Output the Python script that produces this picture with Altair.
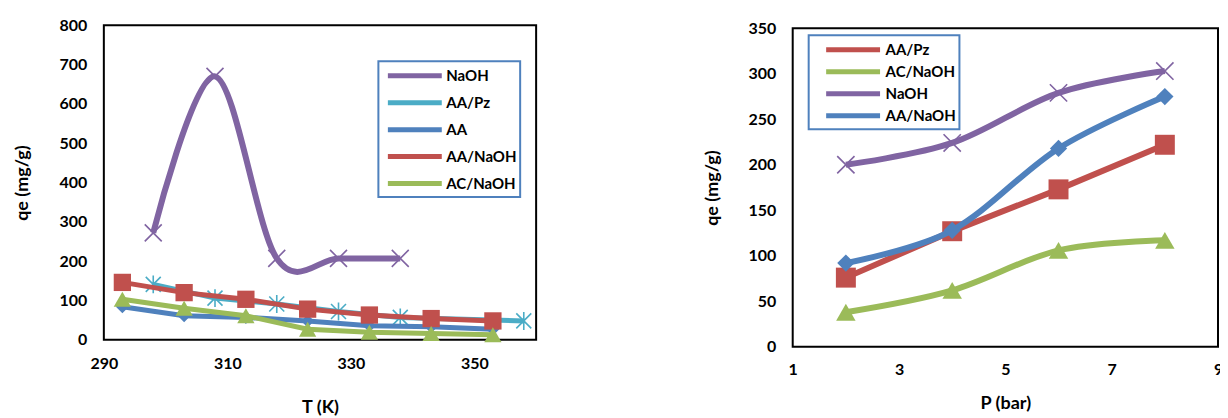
import altair as alt
import pandas as pd

# ---------------- Left panel: qe vs T ----------------
T_NAOH = [298, 308, 318, 328, 338]
QE_NAOH_T = [272, 670, 207, 207, 207]
T_AAPZ = [298, 308, 318, 328, 338, 358]
QE_AAPZ_T = [141, 106, 91, 72, 57, 48]
T_STD = [293, 303, 313, 323, 333, 343, 353]
QE_AA_T = [84, 61, 57, 48, 36, 33, 27]
QE_AANAOH_T = [146, 120, 103, 78, 63, 54, 48]
QE_ACNAOH_T = [103, 80, 61, 27, 19, 16, 13]

SERIES_T = ["NaOH", "AA/Pz", "AA", "AA/NaOH", "AC/NaOH"]
X_TICKS_T = [290, 310, 330, 350]
Y_TICKS_T = [0, 100, 200, 300, 400, 500, 600, 700, 800]

# ---------------- Right panel: qe vs P ----------------
P_VALS = [2, 4, 6, 8]
QE_AAPZ_P = [76, 127, 173, 222]
QE_ACNAOH_P = [38, 62, 106, 117]
QE_NAOH_P = [200, 224, 279, 303]
QE_AANAOH_P = [92, 128, 218, 275]

SERIES_P = ["AA/Pz", "AC/NaOH", "NaOH", "AA/NaOH"]
X_TICKS_P = [1, 3, 5, 7, 9]
Y_TICKS_P = [0, 50, 100, 150, 200, 250, 300, 350]

PURPLE = "#8064A2"
CYAN = "#4BACC6"
BLUE = "#4F81BD"
RED = "#C0504D"
GREEN = "#9BBB59"

X_PATH = "M-1,-1L1,1M1,-1L-1,1"
AST_PATH = "M-1,-1L1,1M1,-1L-1,1M0,-1.2L0,1.2"
LEG_PATH = "M-3,0L3,0"
FONT = "Lato"


def frame(xs_list, ys_list, names):
    rows = []
    for xs, ys, n in zip(xs_list, ys_list, names):
        for x, y in zip(xs, ys):
            rows.append({"series": n, "x": x, "y": y})
    return pd.DataFrame(rows)


df_T = frame([T_NAOH, T_AAPZ, T_STD, T_STD, T_STD],
             [QE_NAOH_T, QE_AAPZ_T, QE_AA_T, QE_AANAOH_T, QE_ACNAOH_T],
             SERIES_T)
df_P = frame([P_VALS] * 4, [QE_AAPZ_P, QE_ACNAOH_P, QE_NAOH_P, QE_AANAOH_P], SERIES_P)


def panel(df, order, colors, marks, interp, widths, xdom, xticks, ydom, yticks, xtitle,
          w, h, leg_x, leg_y, leg_pad, row_pad, sym_off, lab_off,
          x_lab_pad, x_title_pad, y_title_pad):
    color = alt.Color(
        "series:N",
        scale=alt.Scale(domain=order, range=colors),
        legend=alt.Legend(
            title=None, orient="none", legendX=leg_x, legendY=leg_y,
            symbolType=LEG_PATH, symbolSize=324, symbolStrokeWidth=5,
            symbolFillColor="transparent", symbolOffset=sym_off,
            labelOffset=lab_off, labelFont=FONT, labelFontSize=15,
            labelFontWeight="bold", labelColor="black",
            labelExpr="datum.label + '   '",
            strokeColor=BLUE, fillColor="white", padding=leg_pad,
            rowPadding=row_pad,
        ),
    )
    x = alt.X("x:Q", scale=alt.Scale(domain=xdom, nice=False, zero=False),
              axis=alt.Axis(values=xticks, title=xtitle, labelPadding=x_lab_pad,
                            titlePadding=x_title_pad))
    y = alt.Y("y:Q", scale=alt.Scale(domain=ydom, nice=False),
              axis=alt.Axis(values=yticks, title="qe (mg/g)", labelPadding=17,
                            titlePadding=y_title_pad))
    layers = []
    for s in order:
        base = alt.Chart(df).transform_filter(alt.datum.series == s)
        layers.append(base.mark_line(strokeWidth=widths[s], interpolate=interp[s]).encode(
            x=x, y=y, color=color))
        shape, size, filled = marks[s]
        if filled:
            pt = base.mark_point(shape=shape, size=size, filled=True, opacity=1,
                                 strokeWidth=0)
        else:
            pt = base.mark_point(shape=shape, size=size, filled=False, opacity=1,
                                 strokeWidth=1.6)
        layers.append(pt.encode(x=x, y=y, color=color))
    return alt.layer(*layers).properties(width=w, height=h)


marks_T = {
    "NaOH": (X_PATH, 289, False),
    "AA/Pz": (AST_PATH, 225, False),
    "AA": ("diamond", 170, True),
    "AA/NaOH": ("square", 300, True),
    "AC/NaOH": ("triangle-up", 300, True),
}
interp_T = {"NaOH": "cardinal", "AA/Pz": "linear", "AA": "linear",
            "AA/NaOH": "linear", "AC/NaOH": "linear"}
widths_T = {"NaOH": 6, "AA/Pz": 5, "AA": 5, "AA/NaOH": 5, "AC/NaOH": 5}

marks_P = {
    "AA/Pz": ("square", 400, True),
    "AC/NaOH": ("triangle-up", 380, True),
    "NaOH": (X_PATH, 300, False),
    "AA/NaOH": ("diamond", 300, True),
}
interp_P = {"AA/Pz": "linear", "AC/NaOH": "cardinal", "NaOH": "cardinal",
            "AA/NaOH": "cardinal"}
widths_P = {"AA/Pz": 6, "AC/NaOH": 6, "NaOH": 6, "AA/NaOH": 6}

left = panel(df_T, SERIES_T, [PURPLE, CYAN, BLUE, RED, GREEN], marks_T, interp_T, widths_T,
             [290, 360], X_TICKS_T, [0, 800], Y_TICKS_T, "T (K)",
             433, 315, 275, 36, 3, 5, 22, 20, 16, 27, 28)
right = panel(df_P, SERIES_P, [RED, GREEN, PURPLE, BLUE], marks_P, interp_P, widths_P,
              [1, 9], X_TICKS_P, [0, 350], Y_TICKS_P, "P (bar)",
              426, 319, 16, 10, 3, 0, 30, 21, 15, 17, 26)

# invisible spacer that lowers the right panel by 3 px
spacer = alt.Chart(pd.DataFrame({"v": [0]})).mark_point(opacity=0).encode(
    x=alt.X("v:Q", axis=None), y=alt.Y("v:Q", axis=None)
).properties(width=426, height=3, view=alt.ViewBackground(stroke="transparent"))

right_col = alt.vconcat(spacer, right, spacing=0, bounds="flush")

chart = alt.hconcat(left, right_col, spacing=257, bounds="flush").resolve_scale(
    color="independent"
).properties(
    padding={"left": 4, "top": 8, "right": -4, "bottom": 0},
    background="white",
).configure_view(
    stroke="black", strokeWidth=2
).configure_axis(
    domain=False, ticks=False, grid=False, labelFont=FONT, labelFontSize=16,
    labelFontWeight="bold", labelColor="black", titleFont=FONT, titleFontSize=18,
    titleFontWeight="bold", titleColor="black", labelFlush=False, labelOverlap=False
).configure_legend(
    strokeWidth=2
)

chart.save("out.html", embed_options={"renderer": "svg", "actions": False})
